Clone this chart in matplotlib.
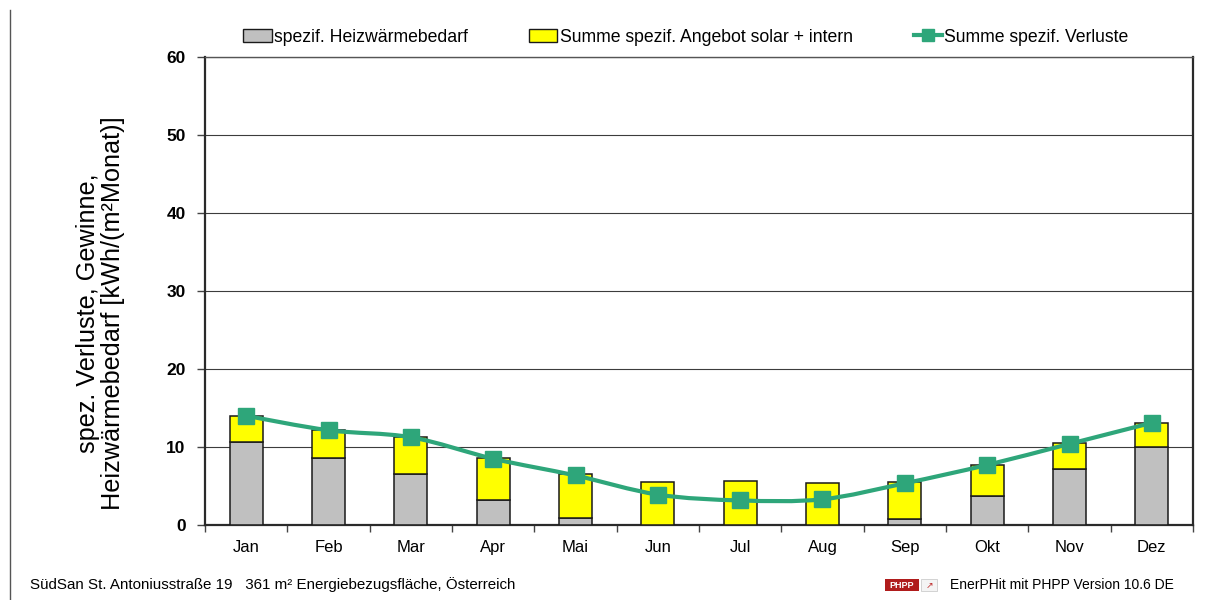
import matplotlib
matplotlib.use("Agg")
import matplotlib.pyplot as plt
import numpy as np
from matplotlib.lines import Line2D
from matplotlib.patches import Patch, PathPatch, Rectangle
from matplotlib.path import Path

plt.rcParams["font.family"] = ["Liberation Sans", "DejaVu Sans"]

months = ["Jan", "Feb", "Mar", "Apr", "Mai", "Jun",
          "Jul", "Aug", "Sep", "Okt", "Nov", "Dez"]
# spezif. Heizwärmebedarf [kWh/(m²Monat)]
heizwaerme = [10.6, 8.6, 6.6, 3.25, 0.95, 0.0, 0.0, 0.0, 0.75, 3.7, 7.2, 9.95]
# Summe spezif. Angebot solar + intern
angebot = [3.4, 3.6, 4.7, 5.3, 5.55, 5.45, 5.65, 5.4, 4.7, 4.0, 3.3, 3.15]
# Summe spezif. Verluste
verluste = [14.0, 12.15, 11.25, 8.5, 6.35, 3.9, 3.15, 3.3, 5.35, 7.7, 10.4, 13.1]

footer_left = "SüdSan St. Antoniusstraße 19   361 m² Energiebezugsfläche, Österreich"
footer_right = "EnerPHit mit PHPP Version 10.6 DE"

GRAY = "#c0c0c0"
YELLOW = "#ffff00"
GREEN = "#2ea67a"


def smooth_path(x, y):
    """Bezier path through all points, like a spreadsheet 'smoothed line'."""
    pts = np.column_stack([x, y]).astype(float)
    ext = np.vstack([pts[0], pts, pts[-1]])
    verts = [pts[0]]
    codes = [Path.MOVETO]
    for i in range(len(pts) - 1):
        p0, p1, p2, p3 = ext[i], ext[i + 1], ext[i + 2], ext[i + 3]
        verts += [p1 + (p2 - p0) / 6.0, p2 - (p3 - p1) / 6.0, p2]
        codes += [Path.CURVE4] * 3
    return Path(verts, codes)


fig = plt.figure(figsize=(12.14, 6.0), dpi=100)
ax = fig.add_axes([205 / 1214, 75 / 600, 988 / 1214, 468 / 600])

x = np.arange(len(months))
ax.bar(x, heizwaerme, width=0.4, color=GRAY, edgecolor="#1a1a1a",
       linewidth=1.1, zorder=3)
ax.bar(x, angebot, width=0.4, bottom=heizwaerme, color=YELLOW,
       edgecolor="#1a1a1a", linewidth=1.1, zorder=3)

ax.add_patch(PathPatch(smooth_path(x, verluste), fill=False, edgecolor=GREEN,
                       linewidth=3.0, zorder=4, capstyle="round"))
ax.plot(x, verluste, linestyle="none", marker="s", markersize=11,
        color=GREEN, zorder=5)

ax.set_xlim(-0.5, len(months) - 0.5)
ax.set_ylim(0, 60)
ax.set_yticks(np.arange(0, 61, 10))
ax.set_xticks(x)
ax.set_xticklabels(months, fontsize=12)
ax.set_xticks(np.arange(-0.5, len(months), 1.0), minor=True)
ax.tick_params(axis="x", which="major", length=0, pad=11)
ax.tick_params(axis="x", which="minor", length=5, width=1, color="#444444",
               direction="out")
ax.tick_params(axis="y", length=6, width=1, color="#444444", pad=8,
               labelsize=12.5)
for lbl in ax.get_yticklabels():
    lbl.set_fontweight("bold")

ax.grid(axis="y", color="#3c3c3c", linewidth=0.8, zorder=1)
for side in ("left", "bottom", "right"):
    ax.spines[side].set_color("#2a2a2a")
    ax.spines[side].set_linewidth(1.6)
ax.spines["top"].set_color("#555555")
ax.spines["top"].set_linewidth(1.0)

ax.set_ylabel("spez. Verluste, Gewinne,\nHeizwärmebedarf [kWh/(m²Monat)]",
              fontsize=18.2, linespacing=1.02, labelpad=30, y=0.452)

handles = [
    Patch(facecolor=GRAY, edgecolor="#1a1a1a", linewidth=1.0),
    Patch(facecolor=YELLOW, edgecolor="#1a1a1a", linewidth=1.0),
    Line2D([], [], color=GREEN, linewidth=3.0, marker="s", markersize=8),
]
labels = ["spezif. Heizwärmebedarf", "Summe spezif. Angebot solar + intern",
          "Summe spezif. Verluste"]
fig.legend(handles, labels, loc="center", bbox_to_anchor=(686 / 1214, 1 - 37 / 600),
           ncol=3, frameon=False, fontsize=12.7, handlelength=1.6,
           handletextpad=0.15, columnspacing=3.45, borderaxespad=0)

# page border line on the left
fig.add_artist(Line2D([10 / 1214, 10 / 1214], [0, 1 - 10 / 600],
                      transform=fig.transFigure, color="#555555", linewidth=1.0))

fig.text(30 / 1214, 1 - 585 / 600, footer_left, fontsize=10.9, va="center")
fig.text(950 / 1214, 1 - 585 / 600, footer_right, fontsize=10, va="center")

# PHPP badge
fig.add_artist(Rectangle((885 / 1214, 1 - 591 / 600), 34 / 1214, 12 / 600,
                         transform=fig.transFigure, facecolor="#b01c1c",
                         edgecolor="none"))
fig.text(902 / 1214, 1 - 585 / 600, "PHPP", fontsize=6.5, fontweight="bold",
         color="white", ha="center", va="center")
fig.add_artist(Rectangle((921 / 1214, 1 - 591 / 600), 16 / 1214, 12 / 600,
                         transform=fig.transFigure, facecolor="#f4f4f4",
                         edgecolor="#cccccc", linewidth=0.6))
fig.text(929 / 1214, 1 - 585 / 600, "↗", fontsize=6.5, color="#c03030",
         ha="center", va="center", family="DejaVu Sans")

fig.savefig("out.png", dpi=100)
